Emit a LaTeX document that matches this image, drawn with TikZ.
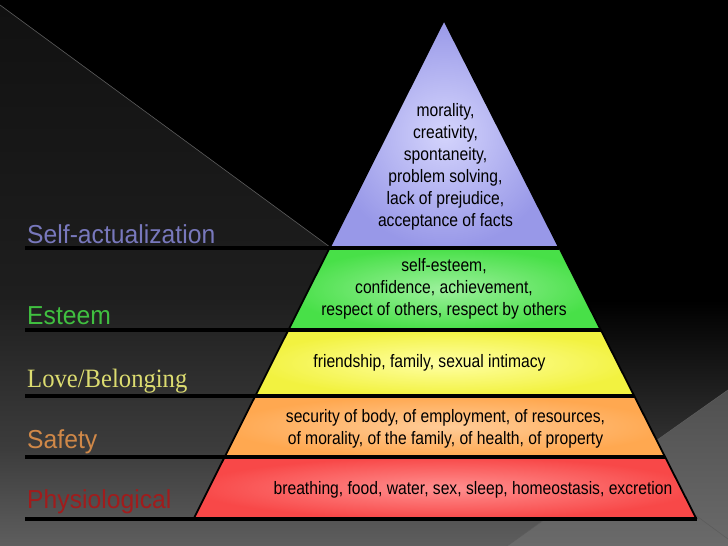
\documentclass[tikz,border=0pt]{standalone}
\usepackage{fontspec}
\setmainfont{Liberation Sans}
\newfontfamily\tierface[FakeStretch=0.87]{Liberation Sans}
\newfontfamily\labelface[FakeStretch=0.95]{Liberation Sans}
\newfontfamily\romanface[FakeStretch=0.93]{Liberation Serif}
\usetikzlibrary{positioning}
\definecolor{selfcol}{HTML}{7878BC}
\definecolor{esteemcol}{HTML}{40C040}
\definecolor{lovecol}{HTML}{DCDC70}
\definecolor{safetycol}{HTML}{D08848}
\definecolor{physcol}{HTML}{A01C1C}
\definecolor{selfout}{HTML}{9898E8}
\definecolor{selfin}{HTML}{D4D4FC}
\definecolor{esteemout}{HTML}{48E048}
\definecolor{esteemin}{HTML}{9CF09C}
\definecolor{loveout}{HTML}{F2F240}
\definecolor{lovein}{HTML}{FFFFA4}
\definecolor{safetyout}{HTML}{FFA850}
\definecolor{safetyin}{HTML}{FFCC98}
\definecolor{physout}{HTML}{F84848}
\definecolor{physin}{HTML}{FF9090}
\definecolor{wallA}{HTML}{5E5E5E}
\definecolor{wallB}{HTML}{3C3C3C}
\definecolor{wallC}{HTML}{1E1E1E}
\definecolor{wallD}{HTML}{111111}
\definecolor{floorA}{HTML}{555555}
\definecolor{cornerA}{HTML}{6A6A6A}
\definecolor{cornerB}{HTML}{505050}
% the path's box covers 25bp to 75bp of these shadings
\pgfdeclareverticalshading{leftwall}{100bp}{color(0bp)=(wallA); color(25bp)=(wallA); color(34bp)=(wallB); color(48bp)=(wallC); color(75bp)=(wallD); color(100bp)=(wallD)}
\pgfdeclareverticalshading{rightwall}{100bp}{color(0bp)=(floorA); color(25bp)=(floorA); color(75bp)=(black); color(100bp)=(black)}
\pgfdeclareverticalshading{corner}{100bp}{color(0bp)=(cornerA); color(25bp)=(cornerA); color(75bp)=(cornerB); color(100bp)=(cornerB)}
\tikzset{
  tier/.style={draw=none},
  tiertext/.style={text=black, font=\tierface\fontsize{18}{22}\selectfont, align=center, inner sep=0pt},
  needname/.style={anchor=base west, inner sep=0pt, font=\labelface\fontsize{26}{26}\selectfont},
  rule/.style={line width=3.6pt, draw=black},
  deco/.style={draw=black!64, line width=0.6pt}
}

\begin{document}
\begin{tikzpicture}[x=1pt, y=-1pt]
  \useasboundingbox (0,0) rectangle (728,546);
  % background
  \fill[black] (0,0) rectangle (728,546);
  \shade[shading=rightwall] (0,300) rectangle (728,546);
  \shade[shading=leftwall] (0,5) -- (728,539) -- (728,546) -- (0,546) -- cycle;
  \shade[shading=corner] (728,390) -- (507,546) -- (728,546) -- cycle;
  \draw[deco] (0,5) -- (728,539);
  \draw[deco] (728,390) -- (507,546);

  % pyramid corners
  \coordinate (apex) at (444,20);
  \coordinate (L1) at (329.5,248);  \coordinate (R1) at (559.4,248);
  \coordinate (L2) at (288.4,330);  \coordinate (R2) at (600.9,330);
  \coordinate (L3) at (255.2,396);  \coordinate (R3) at (634.3,396);
  \coordinate (L4) at (224.6,457);  \coordinate (R4) at (665.1,457);
  \coordinate (L5) at (193.5,519);  \coordinate (R5) at (696.5,519);

  % tiers
  \shade[tier, inner color=selfin, outer color=selfout] (apex) -- (R1) -- (L1) -- cycle;
  \shade[tier, inner color=esteemin, outer color=esteemout] (L1) -- (R1) -- (R2) -- (L2) -- cycle;
  \shade[tier, inner color=lovein, outer color=loveout] (L2) -- (R2) -- (R3) -- (L3) -- cycle;
  \shade[tier, inner color=safetyin, outer color=safetyout] (L3) -- (R3) -- (R4) -- (L4) -- cycle;
  \shade[tier, inner color=physin, outer color=physout] (L4) -- (R4) -- (R5) -- (L5) -- cycle;
  \draw[line width=1.8pt] (L5) -- (apex) -- (R5);

  % tier texts
  \node[tiertext] (t1) at (445.5,167) {morality,\\creativity,\\spontaneity,\\problem solving,\\lack of prejudice,\\acceptance of facts};
  \node[tiertext] (t2) at (444,289) {self-esteem,\\confidence, achievement,\\respect of others, respect by others};
  \node[tiertext] (t3) at (429.5,362.5) {friendship, family, sexual intimacy};
  \node[tiertext] (t4) at (445.5,428.5) {security of body, of employment, of resources,\\of morality, of the family, of health, of property};
  \node[tiertext] (t5) at (473,489.5) {breathing, food, water, sex, sleep, homeostasis, excretion};

  % need names
  \node[needname, text=selfcol] (n1) at (27,243) {Self-actualization};
  \node[needname, text=esteemcol] (n2) at (27,324) {Esteem};
  \node[needname, text=lovecol, font=\romanface\fontsize{26.5}{26.5}\selectfont] (n3) at (27,387) {Love/Belonging};
  \node[needname, text=safetycol] (n4) at (27,448) {Safety};
  \node[needname, text=physcol] (n5) at (27,508) {Physiological};

  % rules under the names
  \coordinate (u1) at (25,248);
  \coordinate (u2) at (25,330);
  \coordinate (u3) at (25,396);
  \coordinate (u4) at (25,457);
  \coordinate (u5) at (25,519);
  \draw[rule] (u1) -- (R1);
  \draw[rule] (u2) -- (R2);
  \draw[rule] (u3) -- (R3);
  \draw[rule] (u4) -- (R4);
  \draw[rule] (u5) -- (R5);
\end{tikzpicture}
\end{document}
